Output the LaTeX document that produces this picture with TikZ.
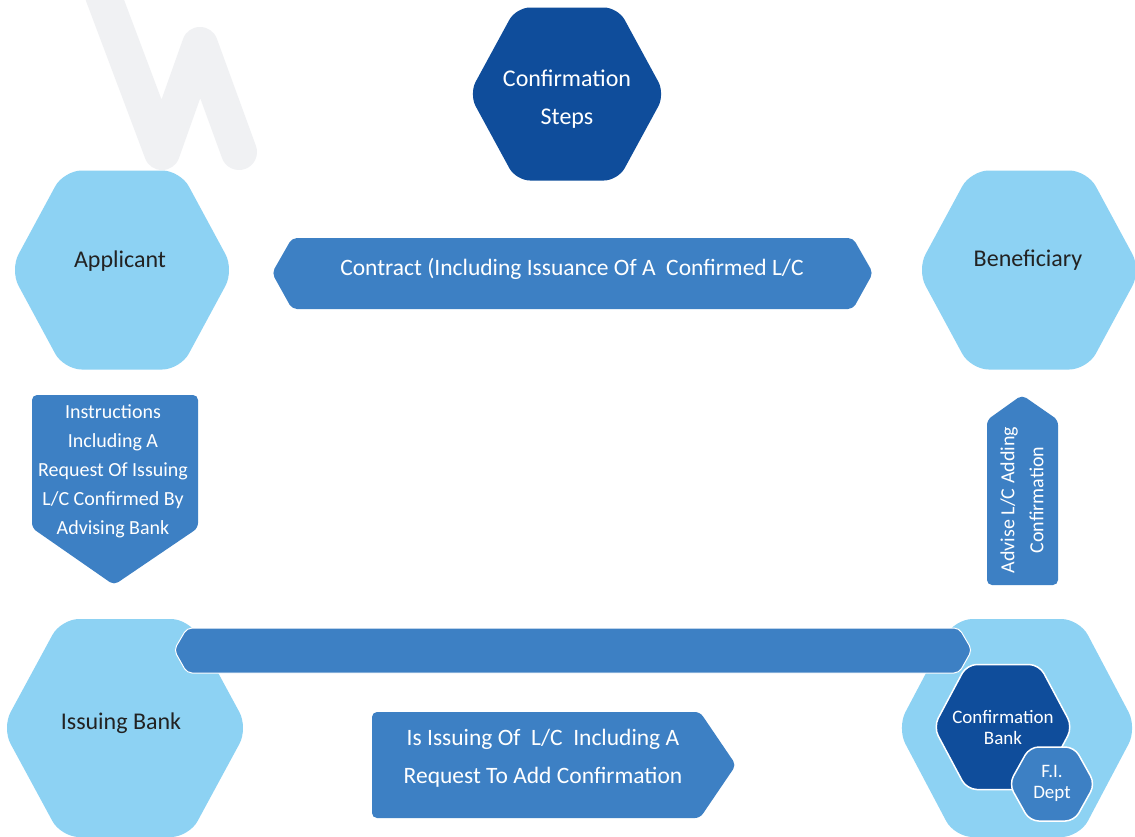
\documentclass[tikz,border=0pt]{standalone}
\usepackage{fontspec}
\setmainfont{Carlito}
\usepackage{xcolor}
\usepackage{tikz}
\definecolor{hexlight}{HTML}{8DD2F3}
\definecolor{hexmid}{HTML}{3D80C4}
\definecolor{hexdark}{HTML}{0F4D9B}
\definecolor{wmark}{HTML}{F0F1F3}
\definecolor{inkdark}{HTML}{222222}
% flat-topped hexagon: centre x, centre y, width, height
\newcommand{\hexpath}[4]{({#1-#3/2},#2) -- ({#1-0.26*#3},{#2-#4/2}) -- ({#1+0.26*#3},{#2-#4/2}) -- ({#1+#3/2},#2) -- ({#1+0.26*#3},{#2+#4/2}) -- ({#1-0.26*#3},{#2+#4/2}) -- cycle}

\begin{document}
\begin{tikzpicture}[x=1pt,y=-1pt,
  partyhex/.style={fill=hexlight, rounded corners=18pt},
  stephex/.style={fill=hexdark, rounded corners=14pt},
  bankhex/.style={fill=hexdark, draw=white, line width=1.5pt, rounded corners=10pt},
  depthex/.style={fill=hexmid, draw=white, line width=1.5pt, rounded corners=9pt},
  flow/.style={fill=hexmid, rounded corners=5pt},
  bigtxt/.style={font=\fontsize{24}{38}\selectfont, align=center},
  midtxt/.style={font=\fontsize{20}{29}\selectfont, align=center, text=white},
  smalltxt/.style={font=\fontsize{19}{21}\selectfont, align=center, text=white}]
\clip (0,0) rectangle (1135,836);
\useasboundingbox (0,0) rectangle (1135,836);
\fill[white] (0,0) rectangle (1135,836);

% watermark
\draw[wmark, line width=36pt, line cap=round, line join=round]
  (103,-5) -- (162,152) -- (200,45) -- (239,152);

% hexagons
\path[stephex] \hexpath{567}{94}{196}{173};
\node[bigtxt, text=white] (steps) at (567,99) {Confirmation\\Steps};

\path[partyhex] \hexpath{122}{270}{224}{199};
\node[bigtxt, text=inkdark] (applicant) at (120,261) {Applicant};

\path[partyhex] \hexpath{1029}{270}{224}{199};
\node[bigtxt, text=inkdark] (beneficiary) at (1028,260) {Beneficiary};

\path[partyhex] \hexpath{125}{728}{246}{218};
\node[bigtxt, text=inkdark] (issuing) at (121,723) {Issuing Bank};

\path[partyhex] \hexpath{1017}{728}{240}{218};

% flows
\path[flow] (272,273) -- (292,238) -- (853,238) -- (873,273) -- (853,309) -- (292,309) -- cycle;
\node[bigtxt, text=white, font=\fontsize{23.5}{38}\selectfont] (contract) at (572,269) {Contract (Including Issuance Of A\ \ Confirmed L/C};

\path[flow] (32,395) -- (198,395) -- (198,528) -- (114,585) -- (32,528) -- cycle;
\node[midtxt] (instr) at (113,471) {Instructions\\Including A\\Request Of Issuing\\L/C Confirmed By\\Advising Bank};

\path[flow] (987,585) -- (987,420) -- (1022,395) -- (1058,420) -- (1058,585) -- cycle;
\node[midtxt] [rotate=90] (advise) at (1022,500) {Advise L/C Adding\\Confirmation};

\path[flow, draw=white, line width=1pt] (174,650) -- (187,628) -- (959,628) -- (972,650) -- (959,673) -- (187,673) -- cycle;

\path[flow] (372,712) -- (700,712) -- (736,765) -- (700,818) -- (372,818) -- cycle;
\node[bigtxt, text=white, font=\fontsize{23.5}{38}\selectfont] (issue) at (543,758) {Is Issuing Of\ \ L/C\ \ Including A\\Request To Add Confirmation};

% confirming bank
\path[bankhex] \hexpath{1003}{727}{139}{125};
\node[smalltxt] (confbank) at (1003,727) {Confirmation\\Bank};
\path[depthex] \hexpath{1052}{784}{86}{74};
\node[smalltxt] (fidept) at (1052,783) {F.I.\\Dept};
\end{tikzpicture}
\end{document}
